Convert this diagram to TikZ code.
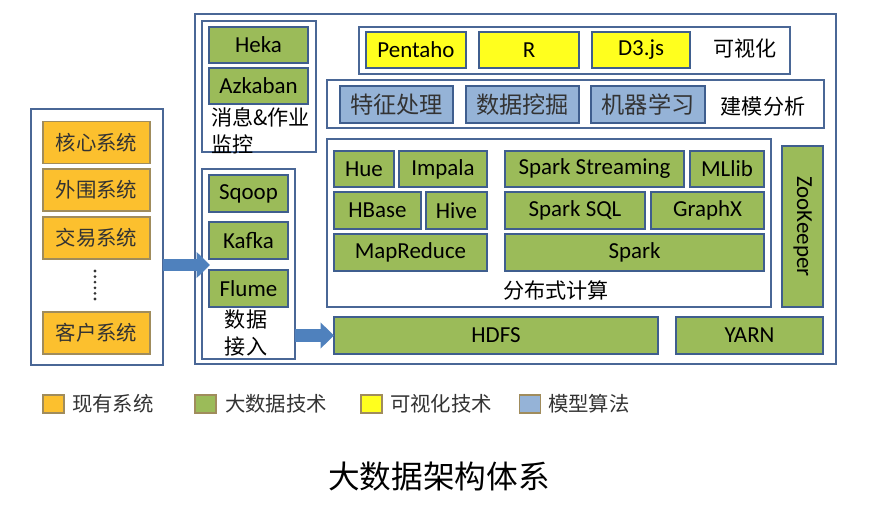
\documentclass[tikz,border=0pt]{standalone}
\usepackage{fontspec}
\setmainfont{Carlito}
\newfontfamily\cjk{Noto Sans CJK SC}
\usetikzlibrary{arrows.meta}
\definecolor{frameblue}{HTML}{4A6796}
\definecolor{boxblue}{HTML}{3F5E8E}
\definecolor{sysorange}{HTML}{FCC02E}
\definecolor{sysedge}{HTML}{A08C5C}
\definecolor{techgreen}{HTML}{9BBB59}
\definecolor{visyellow}{HTML}{FFFF1E}
\definecolor{algblue}{HTML}{95B3D7}
\definecolor{arrowblue}{HTML}{4F81BD}
\definecolor{txtgray}{HTML}{333333}

\begin{document}
\begin{tikzpicture}[x=0.025cm,y=-0.025cm,
  every node/.style={inner sep=0pt,outer sep=0pt},
  frm/.style={draw=frameblue,line width=1.3pt,fill=white},
  sysbox/.style={draw=sysedge,line width=1.3pt,fill=sysorange,minimum width=2.675cm,minimum height=1.05cm,text=txtgray,font=\cjk\fontsize{14.5}{17}\selectfont},
  techbox/.style={draw=boxblue,line width=1.3pt,fill=techgreen,minimum height=0.925cm,font=\fontsize{16.3}{18}\selectfont},
  visbox/.style={draw=boxblue,line width=1.3pt,fill=visyellow,minimum width=2.5cm,minimum height=0.9cm,font=\fontsize{16.3}{18}\selectfont},
  algbox/.style={draw=boxblue,line width=1.3pt,fill=algblue,minimum width=2.825cm,minimum height=0.925cm,text=txtgray,font=\cjk\fontsize{16.5}{19}\selectfont},
  grplabel/.style={font=\cjk\fontsize{15}{19}\selectfont},
  legsq/.style={draw=sysedge,line width=1.1pt,minimum width=0.525cm,minimum height=0.45cm},
  legtext/.style={anchor=west,text=txtgray,font=\cjk\fontsize{14.5}{17}\selectfont},
  bigarrow/.style={arrowblue,line width=9pt,-{Triangle[length=9.5pt,width=18pt]}}]
  \useasboundingbox (0,0) rectangle (880,511);

  \node[frm,minimum width=3.3cm,minimum height=6.4cm] (sysfrm) at (97,237) {};
  \node[sysbox] (core) at (96.5,142.5) {核心系统};
  \node[sysbox] (peri) at (96.5,190) {外围系统};
  \node[sysbox] (trade) at (96.5,238) {交易系统};
  \foreach \k in {0,...,5} \fill[txtgray] (95,271+5.6*\k) circle (1.1pt);
  \node[sysbox] (cust) at (96.5,333) {客户系统};

  \node[frm,minimum width=16.025cm,minimum height=8.75cm] (mainfrm) at (515.5,189) {};

  \node[frm,minimum width=2.85cm,minimum height=3.275cm] (monfrm) at (259,86.5) {};
  \node[techbox,minimum width=2.475cm,minimum height=0.9cm] (heka) at (258.5,45) {Heka};
  \node[techbox,minimum width=2.475cm,minimum height=0.9cm] (azkaban) at (258.5,86) {Azkaban};
  \node[grplabel,anchor=west,align=left] (monlbl) at (211,130.5) {消息\&作业\\监控};

  \node[frm,minimum width=2.325cm,minimum height=4.75cm] (infrm) at (248.5,264) {};
  \node[techbox,minimum width=1.975cm] (sqoop) at (248.5,193.5) {Sqoop};
  \node[techbox,minimum width=1.975cm] (kafka) at (248.5,240.5) {Kafka};
  \node[techbox,minimum width=1.975cm] (flume) at (248.5,288.5) {Flume};
  \node[grplabel,align=center] (inlbl) at (246,333) {数据\\接入};

  \node[frm,minimum width=10.775cm,minimum height=1.175cm] (visfrm) at (574.5,50.5) {};
  \node[visbox] (pentaho) at (416,50) {Pentaho};
  \node[visbox] (rlang) at (529,50) {R};
  \node[visbox,minimum width=2.45cm] (dthree) at (641,50) {D3.js};
  \node[grplabel] (vislbl) at (745,48) {可视化};

  \node[frm,minimum width=12.425cm,minimum height=1.2cm] (modfrm) at (575.5,104) {};
  \node[algbox] (feat) at (396.5,104.5) {特征处理};
  \node[algbox] (mining) at (522.5,104.5) {数据挖掘};
  \node[algbox,minimum width=2.85cm] (ml) at (648,104.5) {机器学习};
  \node[grplabel] (modlbl) at (763,107) {建模分析};

  \node[frm,minimum width=11.1cm,minimum height=4.2cm] (calcfrm) at (549,223) {};
  \node[techbox,minimum width=1.5cm,minimum height=0.9cm] (hue) at (364,169) {Hue};
  \node[techbox,minimum width=2.2cm,minimum height=0.9cm] (impala) at (443,169) {Impala};
  \node[techbox,minimum width=2.175cm] (hbase) at (377.5,210.5) {HBase};
  \node[techbox,minimum width=1.525cm] (hive) at (456.5,210.5) {Hive};
  \node[techbox,minimum width=3.825cm] (mapred) at (410.5,252.5) {MapReduce};
  \node[techbox,minimum width=4.475cm,minimum height=0.9cm] (stream) at (594.5,169) {Spark Streaming};
  \node[techbox,minimum width=1.85cm,minimum height=0.9cm] (mllib) at (727,169) {MLlib};
  \node[techbox,minimum width=3.5cm] (sql) at (575,210.5) {Spark SQL};
  \node[techbox,minimum width=2.825cm] (graphx) at (707.5,210.5) {GraphX};
  \node[techbox,minimum width=6.475cm] (spark) at (634.5,252.5) {Spark};
  \node[grplabel] (calclbl) at (556,290) {分布式计算};

  \node[techbox,rotate=-90,minimum width=4.025cm,minimum height=1.025cm] (zk) at (802.5,226.5) {ZooKeeper};
  \node[techbox,minimum width=8.1cm] (hdfs) at (496,335.5) {HDFS};
  \node[techbox,minimum width=3.675cm] (yarn) at (749.5,335.5) {YARN};

  \coordinate (kafkain) at (210,265);
  \draw[bigarrow] (sysfrm.east |- kafkain) -- (kafkain);
  \draw[bigarrow] (infrm.east |- hdfs) -- (hdfs.west);

  \node[legsq,fill=sysorange] (legsys) at (53.5,404) {};
  \node[legtext] at (72,404) {现有系统};
  \node[legsq,fill=techgreen] (legtech) at (205.5,404) {};
  \node[legtext] at (225,404) {大数据技术};
  \node[legsq,fill=visyellow] (legvis) at (371.5,404) {};
  \node[legtext] at (390,404) {可视化技术};
  \node[legsq,fill=algblue] (legalg) at (530,404) {};
  \node[legtext] at (548,404) {模型算法};

  \node[font=\cjk\fontsize{22.5}{26}\selectfont] (title) at (439,477) {大数据架构体系};
\end{tikzpicture}
\end{document}
